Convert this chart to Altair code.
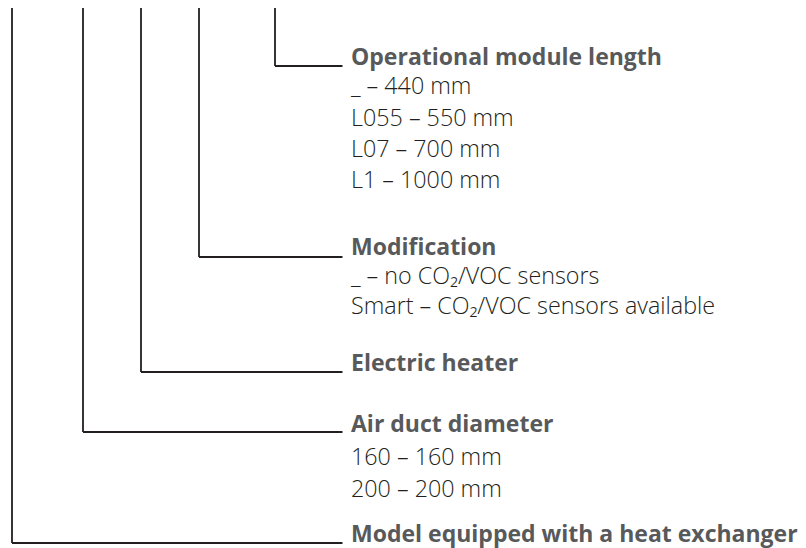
import altair as alt
import pandas as pd

# Branch structure (screen pixel coordinates)
branch_x = [12, 83, 141, 199, 275]
branch_bottom = [543, 432, 372, 257, 66]
branch_top = [0, 0, 0, 0, 3]
line_end_x = 342.5

titles = [
    "Model equipped with a heat exchanger",
    "Air duct diameter",
    "Electric heater",
    "Modification",
    "Operational module length",
]
title_y = [542, 432, 371, 255, 65]

items = [
    "_ – 440 mm",
    "L055 – 550 mm",
    "L07 – 700 mm",
    "L1 – 1000 mm",
    "_ – no CO₂/VOC sensors",
    "Smart – CO₂/VOC sensors available",
    "160 – 160 mm",
    "200 – 200 mm",
]
item_y = [94, 126, 157, 188, 284, 314, 465, 497]
text_x = 351

FONT = "Open Sans"
LINE_COLOR = "#231f20"
TITLE_COLOR = "#58595b"
ITEM_COLOR = "#231f20"

vert = pd.DataFrame({"x": branch_x, "y": branch_top, "y2": branch_bottom})
horiz = pd.DataFrame({"x": branch_x, "x2": [line_end_x] * len(branch_x), "y": branch_bottom})
tdf = pd.DataFrame({"x": [text_x] * len(titles), "y": title_y, "t": titles})
idf = pd.DataFrame({"x": [text_x] * len(items), "y": item_y, "t": items})

xs = alt.Scale(domain=[8, 798], range=[0, 790])
ys = alt.Scale(domain=[8, 548], range=[0, 540])

X = lambda f="x": alt.X(f"{f}:Q", scale=xs, axis=None)
Y = lambda f="y": alt.Y(f"{f}:Q", scale=ys, axis=None)

v = alt.Chart(vert).mark_rule(color=LINE_COLOR, strokeWidth=1.8).encode(
    x=X(), y=Y(), y2="y2:Q"
)
h = alt.Chart(horiz).mark_rule(color=LINE_COLOR, strokeWidth=1.8).encode(
    x=X(), x2="x2:Q", y=Y()
)
t = alt.Chart(tdf).mark_text(
    align="left", baseline="alphabetic", font=FONT, fontSize=23,
    fontWeight="bold", color=TITLE_COLOR
).encode(x=X(), y=Y(), text="t:N")
it = alt.Chart(idf).mark_text(
    align="left", baseline="alphabetic", font=FONT, fontSize=23.3,
    fontWeight=300, color=ITEM_COLOR
).encode(x=X(), y=Y(), text="t:N")

chart = alt.layer(v, h, t, it).properties(
    width=790, height=540, padding=0, autosize=alt.AutoSizeParams(type="none")
).configure_view(stroke=None)

chart.save("out.html", embed_options={"renderer": "svg", "actions": False})
